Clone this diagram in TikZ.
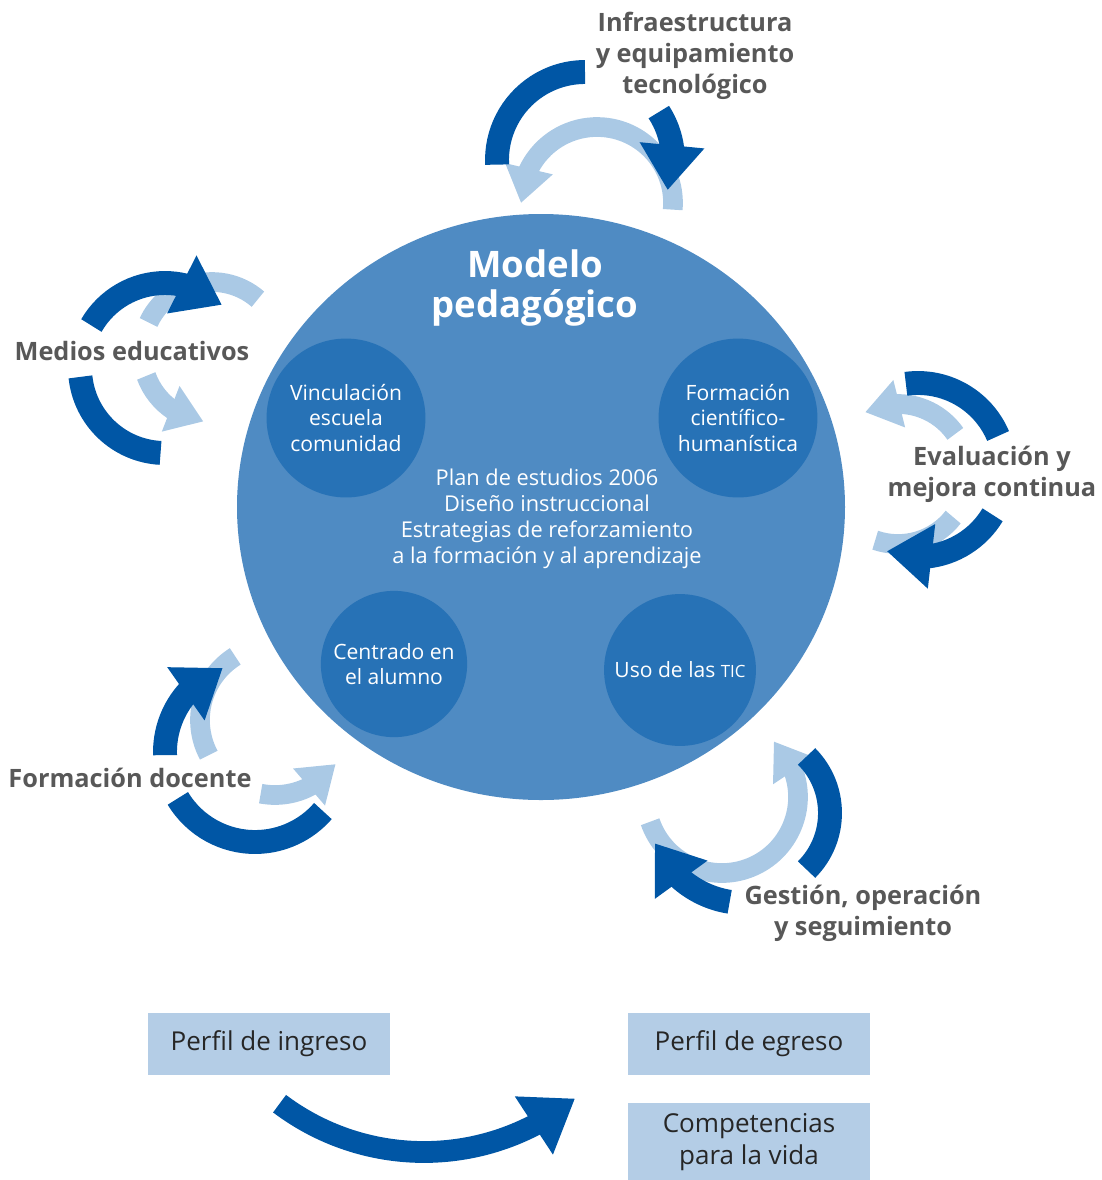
\documentclass[tikz,border=0pt]{standalone}
\usepackage{fontspec}
\setmainfont{Open Sans}
\usetikzlibrary{arrows.meta,bending}
\definecolor{darkblue}{RGB}{0,86,165}
\definecolor{lightblue}{RGB}{170,201,229}
\definecolor{modelblue}{RGB}{79,139,195}
\definecolor{innerblue}{RGB}{39,114,182}
\definecolor{boxblue}{RGB}{180,205,230}
\definecolor{labelgray}{RGB}{88,88,88}

\begin{document}
\begin{tikzpicture}[x=0.025cm,y=-0.025cm,
  darkband/.style={draw=darkblue,line width=17pt},
  lightband/.style={draw=lightblue,line width=14pt},
  darkhead/.style={darkband,-{Triangle[width=44pt,length=32pt]}},
  lighthead/.style={lightband,-{Triangle[width=33pt,length=25pt]}},
  cyclelabel/.style={text=labelgray,align=center,font=\bfseries\fontsize{18}{22}\selectfont},
  topic/.style={circle,fill=innerblue,text=white,align=center,inner sep=0pt,
    font=\fontsize{15}{18}\selectfont},
  profilebox/.style={fill=boxblue,text=black!85,align=center,inner sep=0pt,
    minimum width=172pt,font=\fontsize{18.5}{23}\selectfont}]
  \useasboundingbox (0,0) rectangle (1101,1180);

  \fill[modelblue] (541,507) ellipse [x radius=304, y radius=293];
  \node[topic,minimum size=113pt] (vinculacion) at (346,418) {Vinculación\\escuela\\comunidad};
  \node[topic,minimum size=113pt] (formacion) at (738,418) {Formación\\científico-\\humanística};
  \node[topic,minimum size=104pt] (centrado) at (394,664) {Centrado en\\el alumno};
  \node[topic,minimum size=108pt] (tic) at (680,670) {Uso de las {\fontsize{12}{14}\selectfont TIC}};
  \node[text=white,align=center,font=\bfseries\fontsize{26}{28.5}\selectfont] (modelo) at (535,288) {Modelo\\pedagógico};
  \node[text=white,align=center,font=\fontsize{15.5}{18.4}\selectfont] (plan) at (547,519)
    {Plan de estudios 2006\\Diseño instruccional\\Estrategias de reforzamiento\\a la formación y al aprendizaje};

  \foreach \cx/\cy/\r/\a/\b in {212/352/70/311/205, 898/474/70/38/109, 275/720/75/238/152}
    \draw[lightband] (\cx,\cy) ++(\a:\r) arc[start angle=\a,end angle=\b,radius=\r];
  \foreach \cx/\cy/\r/\a/\b in {597/203/76/5/-180, 212/352/70/160/97, 898/474/70/325/242,
      275/720/75/101/36, 722/797/76/161/-47}
    \draw[lighthead] (\cx,\cy) ++(\a:\r) arc[start angle=\a,end angle=\b,radius=\r];

  \foreach \cx/\cy/\r/\a/\b in {585/160/88/177/270, 165/368/85/174/93, 918/470/87/262/337,
      255/752/90/149/41, 750/813/80/-45/45}
    \draw[darkband] (\cx,\cy) ++(\a:\r) arc[start angle=\a,end angle=\b,radius=\r];
  \foreach \cx/\cy/\r/\a/\b in {585/160/88/327/380, 165/368/85/210/312, 918/470/87/31/111,
      255/752/90/178/249, 745/805/98/99/157}
    \draw[darkhead] (\cx,\cy) ++(\a:\r) arc[start angle=\a,end angle=\b,radius=\r];

  \node[cyclelabel] (infra) at (695,56) {Infraestructura\\y equipamiento\\tecnológico};
  \node[cyclelabel] (medios) at (132,351) {Medios educativos};
  \node[cyclelabel] (evaluacion) at (992,474) {Evaluación y\\mejora continua};
  \node[cyclelabel] (docente) at (130,778) {Formación docente};
  \node[cyclelabel] (gestion) at (863,913) {Gestión, operación\\y seguimiento};

  \node[profilebox,minimum height=44pt] (ingreso) at (269,1044) {Perfil de ingreso};
  \node[profilebox,minimum height=44pt] (egreso) at (749,1044) {Perfil de egreso};
  \node[profilebox,minimum height=55pt] (competencias) at (749,1142) {Competencias\\para la vida};
  \draw[darkblue,line width=15.5pt,-{Triangle[width=47pt,length=35pt]}]
    (424,912) ++(127:240) arc[start angle=127,end angle=51,radius=240];
\end{tikzpicture}
\end{document}
